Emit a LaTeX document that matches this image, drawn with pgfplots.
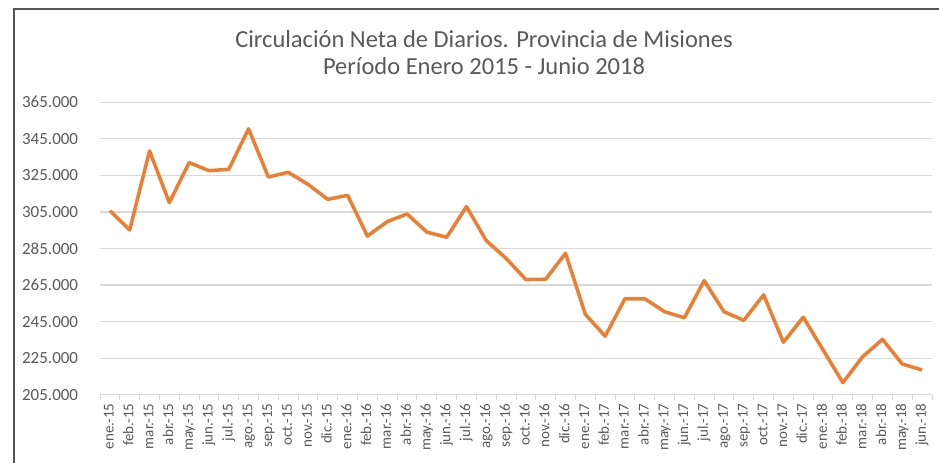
\documentclass[border=0pt]{standalone}
\usepackage{pgfplots}
\pgfplotsset{compat=1.18}
\usepackage{fontspec}
\setmainfont{Carlito}
\definecolor{lineorange}{HTML}{ED7D31}
\definecolor{gridgray}{HTML}{D9D9D9}
\definecolor{labelgray}{HTML}{595959}
\definecolor{framegray}{HTML}{555555}
\begin{document}
\begin{tikzpicture}[x=1pt,y=1pt]
\useasboundingbox (0,0) rectangle (939,463);
\draw[framegray, line width=1.6pt] (14,0) -- (14,454) -- (939,454);
\node[anchor=base, text=labelgray, font=\fontsize{24.5}{28}\selectfont, inner sep=0pt] at (484,415.5) {Circulación Neta de Diarios. Provincia de Misiones};
\node[anchor=base, text=labelgray, font=\fontsize{24.5}{28}\selectfont, inner sep=0pt] at (484,388) {Período Enero 2015 - Junio 2018};
\begin{axis}[
  at={(100pt,68.3pt)}, anchor=south west,
  scale only axis, width=832pt, height=292.4pt,
  xmin=-0.5, xmax=41.5, ymin=205000, ymax=365000,
  scaled y ticks=false,
  axis line style={draw=none},
  ytick={205000,225000,245000,265000,285000,305000,325000,345000,365000},
  yticklabels={205.000,225.000,245.000,265.000,285.000,305.000,325.000,345.000,365.000},
  ymajorgrids,
  major grid style={color=gridgray, line width=1.2pt},
  major tick length=0pt,
  minor tick length=5pt,
  tick align=outside,
  xtick pos=bottom, ytick pos=left,
  xtick={0,...,41},
  minor xtick={-0.5,0.5,...,41.5},
  minor tick style={color=gridgray, line width=1pt},
  xticklabels={ene.-15,feb.-15,mar.-15,abr.-15,may.-15,jun.-15,jul.-15,ago.-15,sep.-15,oct.-15,nov.-15,dic.-15,
    ene.-16,feb.-16,mar.-16,abr.-16,may.-16,jun.-16,jul.-16,ago.-16,sep.-16,oct.-16,nov.-16,dic.-16,
    ene.-17,feb.-17,mar.-17,abr.-17,may.-17,jun.-17,jul.-17,ago.-17,sep.-17,oct.-17,nov.-17,dic.-17,
    ene.-18,feb.-18,mar.-18,abr.-18,may.-18,jun.-18},
  xticklabel style={rotate=90, anchor=east, inner sep=0pt, text=labelgray, font=\fontsize{15}{17}\selectfont, text height=10.5pt, text depth=3pt},
  xticklabel shift=8.6pt,
  yticklabel style={anchor=east, inner sep=0pt, xshift=-21.7pt, text=labelgray, font=\fontsize{17}{20}\selectfont},
  clip=false,
]
\addplot[color=lineorange, line width=3.5pt, line join=round, mark=none] coordinates {
(0,305700) (1,295100) (2,338400) (3,310100) (4,332000) (5,327600) (6,328300) (7,350500) (8,324100) (9,326700) (10,320100) (11,311900)
(12,314100) (13,291800) (14,299700) (15,303900) (16,294000) (17,291100) (18,307900) (19,289300) (20,279600) (21,268000) (22,268200) (23,282400)
(24,249000) (25,237000) (26,257500) (27,257500) (28,250400) (29,247100) (30,267400) (31,250400) (32,245700) (33,259600) (34,233700) (35,247400)
(36,229500) (37,211600) (38,225800) (39,235300) (40,221800) (41,218500)
};
\end{axis}
\end{tikzpicture}
\end{document}
